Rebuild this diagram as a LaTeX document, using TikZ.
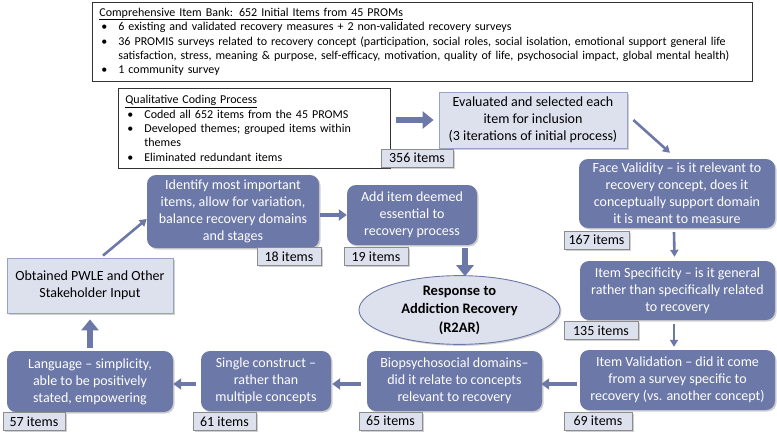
\documentclass[tikz,border=0pt]{standalone}
\usepackage{fontspec}
\setmainfont{Carlito}
\usetikzlibrary{arrows.meta,shapes.geometric,shadows}
\definecolor{boxblue}{HTML}{6C78A7}
\definecolor{lightfill}{HTML}{DDE1EE}
\definecolor{lblborder}{HTML}{8C8C8C}
\definecolor{lightborder}{HTML}{98A2C4}
\newcommand\qbul{\makebox[19pt][l]{\hspace{2pt}\textbullet}}
\tikzset{
  shd/.style={drop shadow={shadow xshift=1.5pt,shadow yshift=-1.5pt,opacity=0.3,fill=black!60}},
  bluebox/.style={rectangle, rounded corners=9pt, fill=boxblue, draw=none, text=white, align=center, font=\fontsize{14}{17}\selectfont, inner sep=0pt, shd},
  lightbox/.style={rectangle, fill=lightfill, draw=lightborder, line width=0.8pt, align=center, font=\fontsize{14}{17}\selectfont, inner sep=0pt, shd},
  lbl/.style={rectangle, fill=lightfill, draw=lblborder, line width=0.8pt, font=\fontsize{14}{16}\selectfont, inner sep=0pt, minimum height=18pt, shd},
  textbox/.style={rectangle, draw=black!80, line width=0.8pt, fill=white, align=left, font=\fontsize{12}{14.4}\selectfont, inner ysep=0pt},
  thinarr/.style={draw=boxblue, line width=2.6pt, -{Triangle[length=7pt,width=8pt]}},
  medarr/.style={draw=boxblue, line width=4pt, -{Triangle[length=8pt,width=11pt]}},
  fatarr/.style={draw=boxblue, line width=6.5pt, -{Triangle[length=11pt,width=17pt]}},
}
\begin{document}
\begin{tikzpicture}[x=1pt,y=-1pt]
\useasboundingbox[fill=white] (0,0) rectangle (777,434);

\node[textbox, anchor=north west, minimum height=79pt, text width=646pt, inner xsep=7pt] (bank) at (92,2) {%
\underline{Comprehensive Item Bank: 652 Initial Items from 45 PROMs}\\
\qbul 6 existing and validated recovery measures + 2 non-validated recovery surveys\\
\qbul 36 PROMIS surveys related to recovery concept (participation, social roles, social isolation, emotional support general life\\
\hspace*{19pt}satisfaction, stress, meaning \& purpose, self-efficacy, motivation, quality of life, psychosocial impact, global mental health)\\
\qbul 1 community survey};

\node[textbox, anchor=north west, minimum height=80pt, text width=258pt, inner xsep=7pt] (qual) at (118,88) {%
\underline{Qualitative Coding Process}\\
\qbul Coded all 652 items from the 45 PROMS\\
\qbul Developed themes; grouped items within\\
\hspace*{19pt}themes\\
\qbul Eliminated redundant items};

\node[lightbox, minimum width=188pt, minimum height=56pt] (eval) at (533,120) {Evaluated and selected each\\item for inclusion\\(3 iterations of initial process)};
\node[lbl, minimum width=72pt] (l356) at (417,158) {356 items};

\node[bluebox, minimum width=196pt, minimum height=69pt] (face) at (677,193.5) {Face Validity -- is it relevant to\\recovery concept, does it\\conceptually support domain\\it is meant to measure};
\node[lbl, minimum width=65pt] (l167) at (596.5,240) {167 items};

\node[bluebox, minimum width=195pt, minimum height=59pt] (spec) at (677.5,290.5) {Item Specificity -- is it general\\rather than specifically related\\to recovery};
\node[lbl, minimum width=74pt] (l135) at (601,330.5) {135 items};

\node[bluebox, minimum width=195pt, minimum height=60pt] (valid) at (677.5,380) {Item Validation -- did it come\\from a survey specific to\\recovery (vs. another concept)};
\node[lbl, minimum width=68pt] (l69) at (598,421) {69 items};

\node[bluebox, minimum width=175pt, minimum height=60pt] (bio) at (454.5,381) {Biopsychosocial domains--\\did it relate to concepts\\relevant to recovery};
\node[lbl, minimum width=63pt] (l65) at (390.5,421) {65 items};

\node[bluebox, minimum width=130pt, minimum height=60pt] (single) at (266,381) {Single construct --\\rather than\\multiple concepts};
\node[lbl, minimum width=63pt] (l61) at (224.5,421.5) {61 items};

\node[bluebox, minimum width=166pt, minimum height=61pt] (lang) at (90,381.5) {Language -- simplicity,\\able to be positively\\stated, empowering};
\node[lbl, minimum width=62pt] (l57) at (34,421.5) {57 items};

\node[lightbox, minimum width=166pt, minimum height=55pt] (obt) at (90,285.5) {Obtained PWLE and Other\\Stakeholder Input};

\node[bluebox, minimum width=172pt, minimum height=73pt] (ident) at (233,211.5) {Identify most important\\items, allow for variation,\\balance recovery domains\\and stages};
\node[lbl, minimum width=64pt] (l18) at (289,256.5) {18 items};

\node[bluebox, minimum width=130pt, minimum height=60pt] (add) at (412,215) {Add item deemed\\essential to\\recovery process};
\node[lbl, minimum width=64pt] (l19) at (376,256.5) {19 items};

\node[ellipse, fill=lightfill, draw=boxblue, line width=0.9pt, minimum width=201pt, minimum height=66pt, inner sep=0pt, align=center, font=\bfseries\fontsize{14.5}{18.5}\selectfont, shd] (r2ar) at (459.5,310) {Response to\\Addiction Recovery\\(R2AR)};

% connectors
\draw[fatarr] ([xshift=5pt]qual.east |- eval.west) -- ([xshift=-5pt]eval.west);
\draw[thinarr] ([xshift=6pt]eval.east) -- ([xshift=-7pt,yshift=6pt]face.north);
\draw[thinarr] ([xshift=-3pt,yshift=-4pt]face.south) -- ([xshift=-3pt,yshift=4pt]spec.north);
\draw[thinarr] ([xshift=-3.5pt,yshift=-4pt]spec.south) -- ([xshift=-3.5pt,yshift=3pt]valid.north);
\draw[medarr] ([xshift=-3pt,yshift=-4pt]valid.west) -- ([xshift=-1pt,yshift=-3pt]bio.east);
\draw[medarr] ([xshift=-6pt,yshift=-3pt]bio.west) -- ([xshift=1pt,yshift=-3pt]single.east);
\draw[medarr] ([xshift=-5pt,yshift=-3pt]single.west) -- ([yshift=-2.5pt]lang.east);
\draw[fatarr] ([yshift=3pt]lang.north) -- ([yshift=-6pt]obt.south);
\draw[thinarr] ([xshift=13pt,yshift=2pt]obt.north) -- ([yshift=-7.5pt]ident.west);
\draw[medarr] ([xshift=1pt,yshift=-3.5pt]ident.east) -- (add.west);
\draw[fatarr] ([xshift=5.5pt,yshift=-3pt]r2ar.north |- add.south) -- ([xshift=5.5pt,yshift=-1pt]r2ar.north);
\end{tikzpicture}
\end{document}
